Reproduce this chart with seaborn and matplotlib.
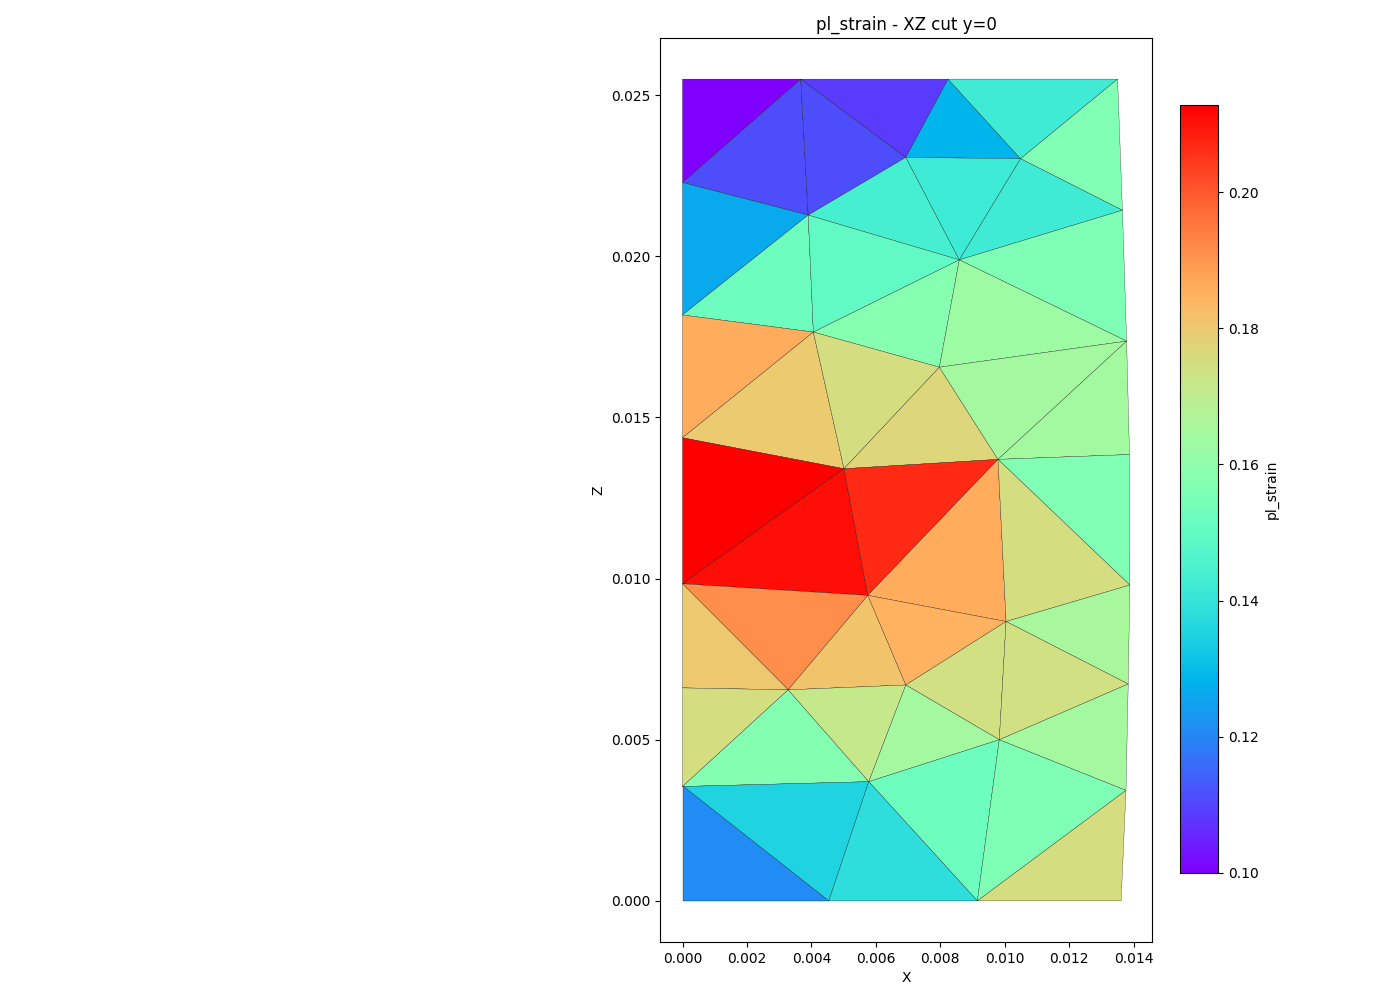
# pl_strain pada potongan XZ (y=0), mesh segitiga dengan warna per elemen
import numpy as np
import matplotlib
matplotlib.use("Agg")
import matplotlib.pyplot as plt
import matplotlib.tri as mtri
import seaborn as sns

# =====================
# 1. DATA MESH
# =====================
node_names = ["TL", "T1", "T2", "T3", "L1", "A", "B", "C", "D", "R2",
              "L2", "E", "R3", "F", "L3", "G", "H", "R4", "L4", "I",
              "R5", "J", "K", "L5", "L", "R6", "M", "L6", "N", "R7",
              "B0", "B1", "B3", "BR"]
node_x = [0.0, 0.00367, 0.00824, 0.01350, 0.0, 0.00390, 0.00693, 0.01049, 0.00859, 0.01365,
          0.0, 0.00406, 0.01378, 0.00797, 0.0, 0.00501, 0.00979, 0.01387, 0.0, 0.00575,
          0.01388, 0.01004, 0.00328, 0.0, 0.00693, 0.01383, 0.00983, 0.0, 0.00578, 0.01376,
          0.0, 0.00454, 0.00915, 0.01361]
node_z = [0.02550, 0.02550, 0.02550, 0.02550, 0.02229, 0.02128, 0.02307, 0.02303, 0.01989, 0.02143,
          0.01818, 0.01765, 0.01737, 0.01656, 0.01437, 0.01341, 0.01370, 0.01385, 0.00984, 0.00948,
          0.00980, 0.00867, 0.00655, 0.00661, 0.00670, 0.00673, 0.00500, 0.00355, 0.00370, 0.00343,
          0.0, 0.0, 0.0, 0.0]

elements = [
    ("TL", "T1", "L1"), ("T1", "L1", "A"), ("T1", "A", "B"), ("T1", "T2", "B"),
    ("T2", "B", "C"), ("T2", "T3", "C"), ("T3", "C", "R2"), ("L1", "A", "L2"),
    ("A", "B", "D"), ("B", "C", "D"), ("C", "D", "R2"), ("L2", "A", "E"),
    ("A", "D", "E"), ("D", "R2", "R3"), ("E", "D", "F"), ("D", "F", "R3"),
    ("L2", "E", "L3"), ("E", "L3", "G"), ("E", "F", "G"), ("F", "G", "H"),
    ("F", "R3", "H"), ("R3", "H", "R4"), ("L3", "G", "L4"), ("G", "L4", "I"),
    ("G", "H", "I"), ("H", "I", "J"), ("H", "R4", "R5"), ("H", "J", "R5"),
    ("L4", "I", "K"), ("L4", "K", "L5"), ("I", "K", "L"), ("I", "J", "L"),
    ("J", "R5", "R6"), ("J", "L", "M"), ("J", "M", "R6"), ("L5", "K", "L6"),
    ("K", "L6", "N"), ("K", "L", "N"), ("L", "M", "N"), ("M", "R6", "R7"),
    ("N", "M", "B3"), ("M", "R7", "B3"), ("R7", "B3", "BR"), ("L6", "N", "B1"),
    ("L6", "B0", "B1"), ("N", "B1", "B3"),
]
pl_strain = [0.1000, 0.1113, 0.1113, 0.1085, 0.1283, 0.1420, 0.1565, 0.1260,
             0.1440, 0.1415, 0.1420, 0.1520, 0.1495, 0.1560, 0.1580, 0.1630,
             0.1860, 0.1800, 0.1753, 0.1770, 0.1646, 0.1640, 0.2130, 0.2107,
             0.2068, 0.1860, 0.1565, 0.1753, 0.1914, 0.1806, 0.1814, 0.1848,
             0.1655, 0.1744, 0.1744, 0.1753, 0.1576, 0.1718, 0.1646, 0.1646,
             0.1520, 0.1560, 0.1753, 0.1350, 0.1210, 0.1380]

VMIN, VMAX = 0.10, 0.2128

# =====================
# 2. PLOT
# =====================
sns.set_style("ticks", rc={"text.color": "black", "axes.labelcolor": "black",
                           "xtick.color": "black", "ytick.color": "black",
                           "axes.edgecolor": "black"})
plt.rcParams["font.family"] = ["DejaVu Sans"]

idx = {n: i for i, n in enumerate(node_names)}
triangles = np.array([[idx[a], idx[b], idx[c]] for a, b, c in elements])
tri = mtri.Triangulation(np.array(node_x), np.array(node_z), triangles)

cmap = sns.color_palette("rainbow", as_cmap=True)

fig = plt.figure(figsize=(14, 10), dpi=100)
ax = fig.add_axes([0.05, 0.058, 0.773, 0.904])
cax = fig.add_axes([0.8429, 0.127, 0.0271, 0.768])

tpc = ax.tripcolor(tri, facecolors=np.array(pl_strain), cmap=cmap,
                   vmin=VMIN, vmax=VMAX, edgecolors="k", linewidth=0.2)
ax.set_aspect("equal")
ax.set_anchor("E")
ax.set_title("pl_strain - XZ cut y=0")
ax.set_xlabel("X")
ax.set_ylabel("Z")
cb = fig.colorbar(tpc, cax=cax)
cb.set_label("pl_strain")
plt.savefig("out.png", dpi=100)
